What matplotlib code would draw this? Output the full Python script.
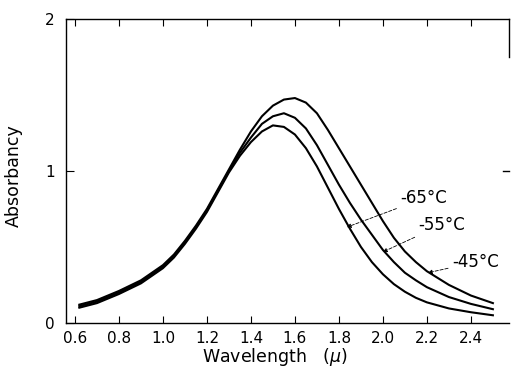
import matplotlib
import matplotlib.pyplot as plt

matplotlib.use("Agg")

# wavelength grid (micron)
wavelength = [0.62, 0.70, 0.80, 0.90, 0.95, 1.00, 1.05, 1.10, 1.15, 1.20,
              1.25, 1.30, 1.35, 1.40, 1.45, 1.50, 1.55, 1.60, 1.65, 1.70,
              1.75, 1.80, 1.85, 1.90, 1.95, 2.00, 2.05, 2.10, 2.15, 2.20,
              2.30, 2.40, 2.50]

abs_m45 = [0.12, 0.15, 0.21, 0.28, 0.33, 0.38, 0.45, 0.54, 0.64, 0.75,
           0.88, 1.01, 1.14, 1.26, 1.36, 1.43, 1.47, 1.48, 1.45, 1.38,
           1.27, 1.15, 1.03, 0.91, 0.79, 0.67, 0.56, 0.47, 0.40, 0.34,
           0.25, 0.18, 0.13]
abs_m55 = [0.11, 0.14, 0.20, 0.27, 0.32, 0.37, 0.44, 0.53, 0.63, 0.74,
           0.87, 1.00, 1.12, 1.22, 1.31, 1.36, 1.38, 1.35, 1.28, 1.17,
           1.04, 0.91, 0.79, 0.68, 0.58, 0.48, 0.40, 0.33, 0.28, 0.235,
           0.17, 0.125, 0.09]
abs_m65 = [0.10, 0.13, 0.19, 0.26, 0.31, 0.36, 0.43, 0.52, 0.62, 0.73,
           0.86, 0.99, 1.10, 1.19, 1.26, 1.30, 1.29, 1.24, 1.15, 1.03,
           0.89, 0.75, 0.62, 0.50, 0.40, 0.32, 0.255, 0.205, 0.165, 0.135,
           0.095, 0.07, 0.05]

labels = ["-65°C", "-55°C", "-45°C"]
label_text_pos = [(2.08, 0.82), (2.16, 0.645), (2.315, 0.40)]
label_arrow_pos = [(1.836, 0.63), (2.0, 0.467), (2.205, 0.33)]

xticks = [0.6, 0.8, 1.0, 1.2, 1.4, 1.6, 1.8, 2.0, 2.2, 2.4]
xticklabels = ["0.6", "0.8", "1.0", "1.2", "1.4", "1.6", "1.8", "2.0", "2.2", "2.4"]

plt.rcParams["font.family"] = ["DejaVu Sans"]

fig = plt.figure(figsize=(5.11, 3.89), dpi=100)
ax = fig.add_axes([0.129, 0.170, 0.867, 0.781])

for values in (abs_m45, abs_m55, abs_m65):
    ax.plot(wavelength, values, color="black", linewidth=1.5,
            solid_joinstyle="round")

for text, tpos, apos in zip(labels, label_text_pos, label_arrow_pos):
    ax.annotate(text, xy=apos, xytext=tpos, fontsize=12, va="center",
                ha="left",
                arrowprops=dict(arrowstyle="-|>", color="black", lw=0.6,
                                linestyle=(0, (4, 2)), mutation_scale=6,
                                shrinkA=1, shrinkB=0))

ax.set_xlim(0.559, 2.573)
ax.set_ylim(0, 2)
ax.set_xticks(xticks)
ax.set_xticklabels(xticklabels)
ax.set_yticks([0, 1, 2])
ax.set_yticklabels(["0", "1", "2"])
ax.tick_params(axis="x", direction="in", length=5, pad=6, labelsize=11,
               top=True)
ax.tick_params(axis="y", direction="in", length=6, pad=8, labelsize=11)

ax.spines["right"].set_bounds(1.75, 2)
for side in ("left", "bottom", "top", "right"):
    ax.spines[side].set_linewidth(1.0)

# small tick at 1 on the right side
ax.plot([2.545, 2.573], [1, 1], color="black", linewidth=1.0, clip_on=False)

fig.text(0.028, 0.548, "Absorbancy", rotation=90, ha="center", va="center",
         fontsize=12.5)
fig.text(0.538, 0.083, r"Wavelength   ($\mu$)", ha="center", va="center",
         fontsize=12.5)

fig.savefig("out.png", dpi=100)
plt.close(fig)
